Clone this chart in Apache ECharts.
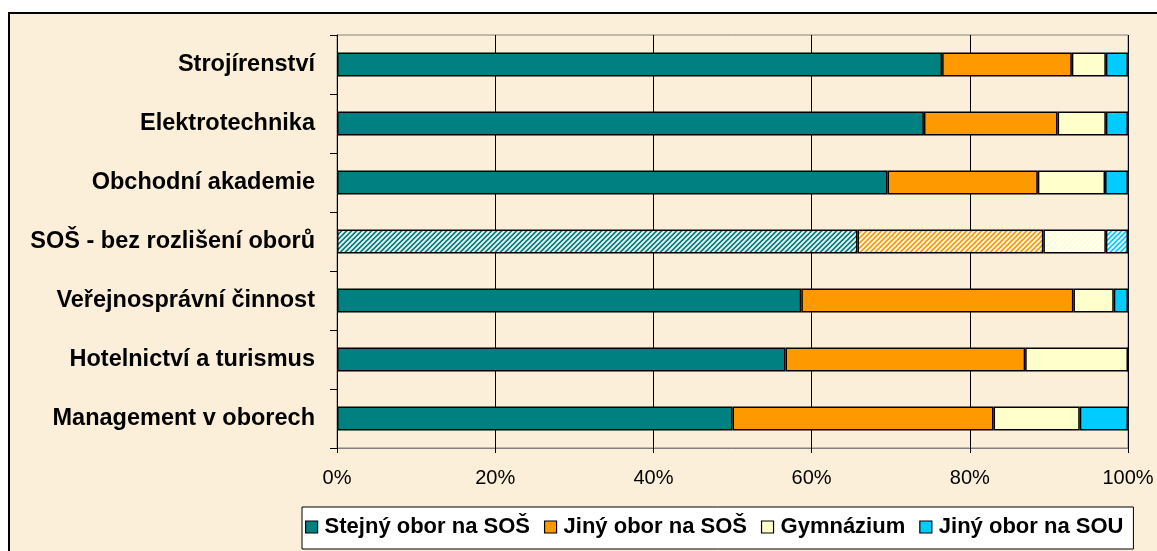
<!DOCTYPE html>
<html>
<head>
<meta charset="utf-8">
<script src="https://cdn.jsdelivr.net/npm/echarts@6/dist/echarts.min.js"></script>
<style>
  html, body { margin: 0; padding: 0; background: #ffffff; }
  #frame { position: absolute; left: 8px; top: 12px; width: 1160px; height: 560px;
           border-left: 2px solid #000; border-top: 2px solid #000; background: #FBEFDA; }
  #chart { position: absolute; left: 0; top: 0; width: 1157px; height: 551px; }
</style>
</head>
<body>
<div id="frame"></div>
<div id="chart"></div>
<script>
const categories = [
  'Strojírenství',
  'Elektrotechnika',
  'Obchodní akademie',
  'SOŠ - bez rozlišení oborů',
  'Veřejnosprávní činnost',
  'Hotelnictví a turismus',
  'Management v oborech'
];
const seriesNames = ['Stejný obor na SOŠ', 'Jiný obor na SOŠ', 'Gymnázium', 'Jiný obor na SOU'];
const stejnyObor = [76.5, 74.2, 69.6, 65.8, 58.7, 56.7, 50.0];
const jinyOborSOS = [16.4, 16.9, 19.0, 23.5, 34.4, 30.3, 33.0];
const gymnazium = [4.3, 6.1, 8.5, 7.9, 5.1, 13.0, 10.9];
const jinyOborSOU = [2.8, 2.8, 2.9, 2.8, 1.8, 0.0, 6.1];
const xTicks = [0, 20, 40, 60, 80, 100];

const colors = ['#008080', '#FF9900', '#FFFFCC', '#00CCFF'];
const hatchedIndex = 3;

function hatch(color) {
  const s = 5;
  const c = document.createElement('canvas');
  c.width = s; c.height = s;
  const g = c.getContext('2d');
  g.fillStyle = color; g.fillRect(0, 0, s, s);
  g.strokeStyle = '#ffffff'; g.lineWidth = 1.7;
  g.beginPath();
  g.moveTo(-1, s + 1); g.lineTo(s + 1, -1);
  g.moveTo(-1, 1); g.lineTo(1, -1);
  g.moveTo(s - 1, s + 1); g.lineTo(s + 1, s - 1);
  g.stroke();
  return { image: c, repeat: 'repeat' };
}

const allValues = [stejnyObor, jinyOborSOS, gymnazium, jinyOborSOU];
const FONT = 'Arial, "Liberation Sans", sans-serif';

const chart = echarts.init(document.getElementById('chart'), null, { renderer: 'canvas' });
chart.setOption({
  backgroundColor: 'transparent',
  animation: false,
  textStyle: { fontFamily: FONT },
  grid: { left: 337, right: 29, top: 35, bottom: 103, show: true, borderColor: '#808080', borderWidth: 1, backgroundColor: 'transparent' },
  legend: {
    left: 302, top: 507,
    padding: [9, 10, 11, 3],
    backgroundColor: '#ffffff',
    borderColor: '#000000', borderWidth: 1,
    itemWidth: 12, itemHeight: 12, itemGap: 14,
    icon: 'rect',
    itemStyle: { borderColor: '#000', borderWidth: 1.2 },
    textStyle: { fontSize: 22, lineHeight: 22, fontWeight: 'bold', color: '#000', fontFamily: FONT, padding: [0, 0, 0, 2] },
    data: seriesNames
  },
  xAxis: {
    type: 'value', min: 0, max: 100, interval: 20,
    axisLine: { show: true, lineStyle: { color: '#808080', width: 1 } },
    axisTick: { show: true, length: 5, lineStyle: { color: '#000' } },
    axisLabel: { formatter: v => xTicks.includes(v) ? v + '%' : '', fontSize: 20, color: '#000', margin: 20 },
    splitLine: { show: true, lineStyle: { color: '#000', width: 1 } }
  },
  yAxis: {
    type: 'category', data: categories, inverse: true,
    axisLine: { show: true, lineStyle: { color: '#000', width: 1 } },
    axisTick: { show: true, length: 7, lineStyle: { color: '#000' } },
    axisLabel: { fontSize: 23.5, fontWeight: 'bold', color: '#000', margin: 22 },
    splitLine: { show: false }
  },
  series: seriesNames.map((name, si) => ({
    name, type: 'bar', stack: 'total',
    barWidth: 24,
    itemStyle: { color: colors[si], borderColor: '#000', borderWidth: 1.5 },
    data: allValues[si].map((v, i) => i === hatchedIndex
      ? { value: v, itemStyle: { color: hatch(colors[si]) } }
      : v)
  }))
});
</script>
</body>
</html>
